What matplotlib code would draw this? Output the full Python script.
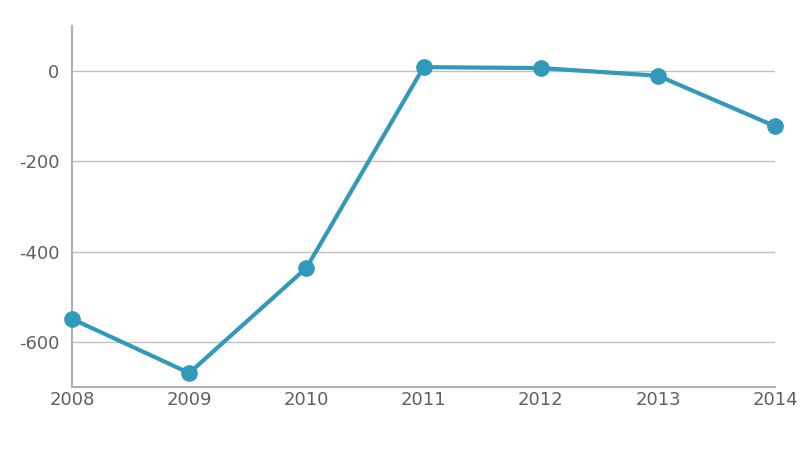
import matplotlib.pyplot as plt

# --- Data ---
years = [2008, 2009, 2010, 2011, 2012, 2013, 2014]
values = [-549, -669, -436, 9, 7, -10, -122]
y_ticks = [0, -200, -400, -600]

# --- Plot ---
fig = plt.figure(figsize=(8, 4.5), dpi=100)
ax = fig.add_axes([0.09, 0.14, 0.879, 0.802])

ax.plot(years, values, color='#3399BB', linewidth=3, marker='o', markersize=11,
        zorder=3, clip_on=False)

ax.set_xlim(2008, 2014)
ax.set_ylim(-700, 100)
ax.set_xticks(years)
ax.set_yticks(y_ticks)
ax.set_yticklabels([str(t) for t in y_ticks])

ax.grid(True, axis='y', color='#c0c0c0', linewidth=1)
ax.set_axisbelow(True)

for side in ['top', 'right']:
    ax.spines[side].set_visible(False)
for side in ['left', 'bottom']:
    ax.spines[side].set_color('#b0b0b0')
    ax.spines[side].set_linewidth(1.5)

ax.tick_params(axis='both', length=0, labelsize=13, colors='#606060')
ax.tick_params(axis='x', pad=3)
ax.tick_params(axis='y', pad=9)

fig.savefig('out.png')
